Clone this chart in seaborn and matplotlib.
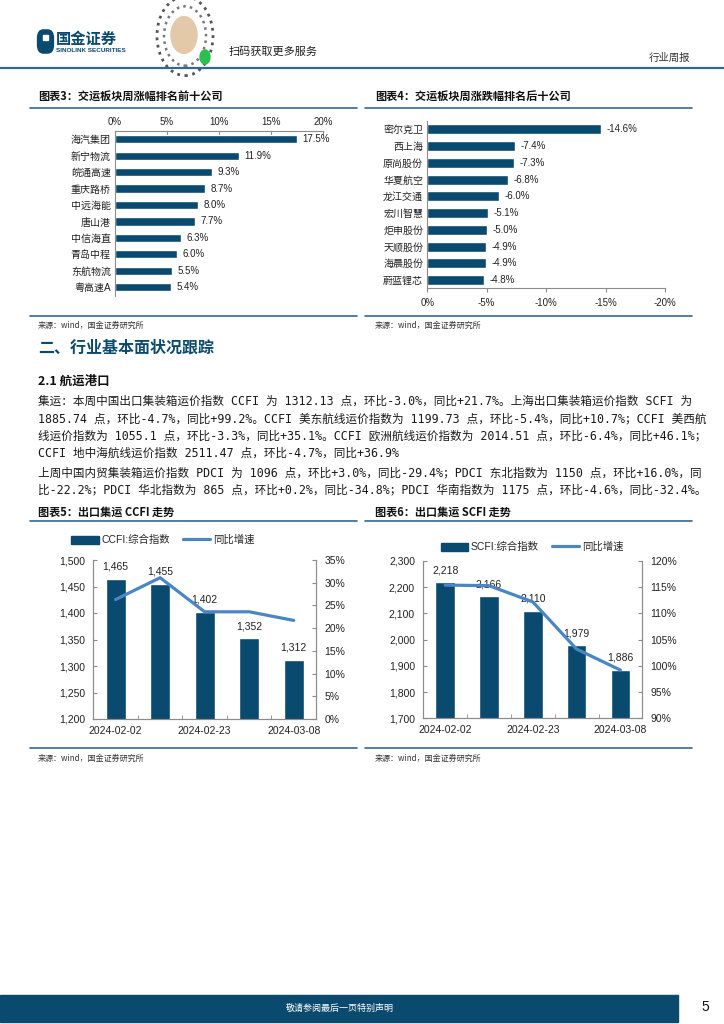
import numpy as np
import pandas as pd
import matplotlib
matplotlib.use("Agg")
import matplotlib.pyplot as plt
import seaborn as sns
from matplotlib.patches import Rectangle, Patch, Circle, FancyBboxPatch
from matplotlib.lines import Line2D
from matplotlib.ticker import FuncFormatter, MultipleLocator, FixedLocator

# ---------------- data ----------------
top_names = ["海汽集团", "新宁物流", "皖通高速", "重庆路桥", "中远海能",
             "唐山港", "中信海直", "青岛中程", "东航物流", "粤高速A"]
top_vals = [17.5, 11.9, 9.3, 8.7, 8.0, 7.7, 6.3, 6.0, 5.5, 5.4]

bot_names = ["密尔克卫", "西上海", "原尚股份", "华夏航空", "龙江交通",
             "宏川智慧", "炬申股份", "天顺股份", "海晨股份", "蔚蓝锂芯"]
bot_vals = [-14.6, -7.4, -7.3, -6.8, -6.0, -5.1, -5.0, -4.9, -4.9, -4.8]

weeks = ["2024-02-02", "2024-02-09", "2024-02-23", "2024-03-01", "2024-03-08"]
ccfi = [1465, 1455, 1402, 1352, 1312]
ccfi_yoy = [26.3, 31.1, 23.6, 23.6, 21.7]
scfi = [2218, 2166, 2110, 1979, 1886]
scfi_yoy = [115.4, 115.3, 112.2, 103.2, 99.2]

para1 = ["集运：本周中国出口集装箱运价指数 CCFI 为 1312.13 点，环比-3.0%，同比+21.7%。上海出口集装箱运价指数 SCFI 为",
         "1885.74 点，环比-4.7%，同比+99.2%。CCFI 美东航线运价指数为 1199.73 点，环比-5.4%，同比+10.7%；CCFI 美西航",
         "线运价指数为 1055.1 点，环比-3.3%，同比+35.1%。CCFI 欧洲航线运价指数为 2014.51 点，环比-6.4%，同比+46.1%；",
         "CCFI 地中海航线运价指数 2511.47 点，环比-4.7%，同比+36.9%"]
para2 = ["上周中国内贸集装箱运价指数 PDCI 为 1096 点，环比+3.0%，同比-29.4%；PDCI 东北指数为 1150 点，环比+16.0%，同",
         "比-22.2%；PDCI 华北指数为 865 点，环比+0.2%，同比-34.8%；PDCI 华南指数为 1175 点，环比-4.6%，同比-32.4%。"]

# ---------------- style ----------------
sns.set_style("white")
plt.rcParams['font.family'] = ['Liberation Sans', 'Noto Sans CJK SC', 'DejaVu Sans']
plt.rcParams['axes.unicode_minus'] = False

NAVY = "#0b4a6f"
LINE = "#4a86c4"
RULE = "#2f6a93"
SPINE = "#8c8c8c"
TXT = "#222222"

W, H = 724, 1024
fig = plt.figure(figsize=(W / 100, H / 100), dpi=100)


def px_axes(l, t, r, b):
    return fig.add_axes([l / W, 1 - b / H, (r - l) / W, (b - t) / H])


def ftext(x, y, s, **kw):
    return fig.text(x / W, 1 - y / H, s, **kw)


def hline(x0, x1, y, color=RULE, lw=1.2):
    fig.add_artist(Line2D([x0 / W, x1 / W], [1 - y / H, 1 - y / H],
                          transform=fig.transFigure, color=color, lw=lw))


CJK = ['Noto Sans CJK SC', 'DejaVu Sans']
BODY = ['DejaVu Sans Mono', 'Noto Sans CJK SC', 'DejaVu Sans']

# ---------------- header ----------------
fig.add_artist(FancyBboxPatch((39 / W, 1 - 51 / H), 13 / W, 19 / H,
                              boxstyle="round,pad=0.002,rounding_size=0.008",
                              transform=fig.transFigure, color=NAVY))
fig.add_artist(Rectangle((43 / W, 1 - 40 / H), 5 / W, 5 / H,
                         transform=fig.transFigure, color="white"))
ftext(56, 39, "国金证券", fontsize=11, fontweight='bold', color=NAVY,
      va='center', family=CJK)
ftext(56, 50, "SINOLINK SECURITIES", fontsize=4.6, fontweight='bold',
      color=NAVY, va='center')
# QR code placeholder
fig.add_artist(Circle((185 / W, 1 - 36 / H), 28 / W, transform=fig.transFigure,
                      facecolor="white", edgecolor="#555555", lw=2, ls=':'))
fig.add_artist(Circle((185 / W, 1 - 36 / H), 21 / W, transform=fig.transFigure,
                      facecolor="none", edgecolor="#777777", lw=1.8, ls=':'))
fig.add_artist(Circle((184 / W, 1 - 35 / H), 13 / W, transform=fig.transFigure,
                      color="#e3c9a8"))
fig.add_artist(Circle((205 / W, 1 - 57 / H), 5 / W, transform=fig.transFigure,
                      color="#2cbf4e"))
ftext(229, 52, "扫码获取更多服务", fontsize=8, color=TXT, va='center', family=CJK)
ftext(690, 58, "行业周报", fontsize=7.5, color="#333333", va='center', ha='right',
      family=CJK)
hline(0, 724, 68, lw=1.6)

# ---------------- chart titles / rules ----------------
ftext(38, 97, "图表3：交运板块周涨幅排名前十公司", fontsize=8, fontweight='bold',
      color="#111111", va='center', family=CJK, style='italic')
ftext(375, 97, "图表4：交运板块周涨跌幅排名后十公司", fontsize=8, fontweight='bold',
      color="#111111", va='center', family=CJK, style='italic')
hline(30, 357, 108)
hline(365, 692, 108)
hline(30, 357, 316)
hline(365, 692, 316)
ftext(38, 325, "来源：wind，国金证券研究所", fontsize=5.8, color="#333333",
      va='center', family=CJK)
ftext(375, 325, "来源：wind，国金证券研究所", fontsize=5.8, color="#333333",
      va='center', family=CJK)

# ---------------- chart 3 ----------------
ax3 = px_axes(115, 131, 323, 295.5)
sns.barplot(x=top_vals, y=top_names, color=NAVY, width=0.5, saturation=1,
            ax=ax3, orient='h')
ax3.set_xlim(0, 20)
ax3.xaxis.tick_top()
ax3.xaxis.set_major_locator(MultipleLocator(5))
ax3.xaxis.set_major_formatter(FuncFormatter(lambda v, p: f"{v:.0f}%"))
for s in ["right", "bottom"]:
    ax3.spines[s].set_visible(False)
for s in ["top", "left"]:
    ax3.spines[s].set_color(SPINE)
    ax3.spines[s].set_linewidth(0.8)
ax3.tick_params(axis='x', which='both', top=True, direction='in', length=3,
                color=SPINE, labelsize=7, labelcolor=TXT, pad=3)
ax3.tick_params(axis='y', length=0, labelsize=7.2, labelcolor=TXT, pad=3)
ax3.set_xlabel("")
ax3.set_ylabel("")
ax3.bar_label(ax3.containers[0], fmt="%.1f%%", padding=4, fontsize=7, color=TXT)

# ---------------- chart 4 ----------------
ax4 = px_axes(427.3, 121, 665, 288.4)
sns.barplot(x=bot_vals, y=bot_names, color=NAVY, width=0.6, saturation=1,
            ax=ax4, orient='h')
ax4.set_xlim(0, -20)
ax4.xaxis.set_major_locator(MultipleLocator(5))
ax4.xaxis.set_major_formatter(FuncFormatter(lambda v, p: f"{v:.0f}%" if abs(v) > 1e-9 else "0%"))
for s in ["right", "top"]:
    ax4.spines[s].set_visible(False)
for s in ["bottom", "left"]:
    ax4.spines[s].set_color(SPINE)
    ax4.spines[s].set_linewidth(0.8)
ax4.tick_params(axis='x', bottom=True, direction='out', length=3, color=SPINE,
                labelsize=7, labelcolor=TXT, pad=4)
ax4.tick_params(axis='y', length=0, labelsize=7.2, labelcolor=TXT, pad=3)
ax4.set_xlabel("")
ax4.set_ylabel("")
ax4.bar_label(ax4.containers[0], fmt="%.1f%%", padding=4, fontsize=7, color=TXT)

# ---------------- section text ----------------
ftext(38, 348, "二、行业基本面状况跟踪", fontsize=11.5, fontweight='bold',
      color=NAVY, va='center', family=CJK)
ftext(38, 381, "2.1 航运港口", fontsize=9, fontweight='bold', color="#111111",
      va='center', family=CJK)

body_fs = 8.2
ys1 = [401, 419, 436, 453]
ys2 = [473, 490]
texts = []
for s, y in zip(para1 + para2, ys1 + ys2):
    texts.append(ftext(38, y, s, fontsize=body_fs, color="#1a1a1a", va='center',
                       family=BODY, fontweight='light'))
# fit first line width to the reference column width (38 -> 690 px)
fig.canvas.draw()
r = fig.canvas.get_renderer()
w0 = texts[0].get_window_extent(renderer=r).width
scale = 652.0 / w0
for t in texts:
    t.set_fontsize(body_fs * scale)

# ---------------- chart 5 & 6 titles ----------------
ftext(38, 512, "图表5：出口集运 CCFI 走势", fontsize=8, fontweight='bold',
      color="#111111", va='center', family=CJK, style='italic')
ftext(375, 512, "图表6：出口集运 SCFI 走势", fontsize=8, fontweight='bold',
      color="#111111", va='center', family=CJK, style='italic')
hline(30, 357, 521)
hline(365, 692, 521)
hline(30, 357, 748)
hline(365, 692, 748)
ftext(38, 758, "来源：wind，国金证券研究所", fontsize=5.8, color="#333333",
      va='center', family=CJK)
ftext(375, 758, "来源：wind，国金证券研究所", fontsize=5.8, color="#333333",
      va='center', family=CJK)


def combo(box, vals, yoy, ylo, yhi, ystep, rlo, rhi, rstep, name, leg_xy):
    ax = px_axes(*box)
    sns.barplot(x=weeks, y=vals, color=NAVY, width=0.45, saturation=1, ax=ax)
    ax.set_ylim(ylo, yhi)
    ax.yaxis.set_major_locator(MultipleLocator(ystep))
    ax.yaxis.set_major_formatter(FuncFormatter(lambda v, p: f"{v:,.0f}"))
    ax.bar_label(ax.containers[0], labels=[f"{v:,}" for v in vals], padding=5,
                 fontsize=7.5, color=TXT)
    ax2 = ax.twinx()
    sns.lineplot(x=np.arange(len(yoy)), y=yoy, ax=ax2, color=LINE, lw=2.3)
    ax2.set_ylim(rlo, rhi)
    ax2.yaxis.set_major_locator(MultipleLocator(rstep))
    ax2.yaxis.set_major_formatter(FuncFormatter(lambda v, p: f"{v:.0f}%"))
    ax.set_xlim(-0.5, len(vals) - 0.5)
    ax.set_xticks([0, 2, 4])
    ax.set_xticklabels([weeks[0], weeks[2], weeks[4]])
    ax.xaxis.set_minor_locator(FixedLocator([0.5, 1.5, 2.5, 3.5]))
    for a in (ax, ax2):
        a.spines["top"].set_visible(False)
        for s in ["left", "right", "bottom"]:
            a.spines[s].set_color(SPINE)
            a.spines[s].set_linewidth(0.8)
        a.set_xlabel("")
        a.set_ylabel("")
    ax.tick_params(axis='x', which='major', length=0, labelsize=7.5,
                   labelcolor=TXT, pad=5)
    ax.tick_params(axis='x', which='minor', bottom=True, direction='in',
                   length=3, color=SPINE)
    ax.tick_params(axis='y', left=True, direction='in', length=3, color=SPINE,
                   labelsize=7.5, labelcolor=TXT, pad=6)
    ax2.tick_params(axis='y', right=True, direction='in', length=3, color=SPINE,
                    labelsize=7.5, labelcolor=TXT, pad=6)
    handles = [Patch(facecolor=NAVY, edgecolor=NAVY),
               Line2D([0], [0], color=LINE, lw=2.3)]
    fig.legend(handles, [name, "同比增速"], loc='center',
               bbox_to_anchor=(leg_xy[0] / W, 1 - leg_xy[1] / H), ncol=2,
               frameon=False, fontsize=7.5, handlelength=2.6, handleheight=0.8,
               columnspacing=1.2, handletextpad=0.3)
    return ax, ax2


combo((93.3, 560, 316, 719), ccfi, ccfi_yoy, 1200, 1500, 50, 0, 35, 5,
      "CCFI:综合指数", (163, 540))
combo((423.3, 561, 642.3, 718.3), scfi, scfi_yoy, 1700, 2300, 100, 90, 120, 5,
      "SCFI:综合指数", (532, 547))

# ---------------- footer ----------------
fig.add_artist(Rectangle((0, 1 - 1022 / H), 678 / W, 27 / H,
                         transform=fig.transFigure, color=NAVY))
ftext(340, 1008, "敬请参阅最后一页特别声明", fontsize=6.5, color="white",
      ha='center', va='center', family=CJK)
ftext(705, 1007, "5", fontsize=10, color="#111111", ha='center', va='center')

fig.savefig("out.png", dpi=100)
